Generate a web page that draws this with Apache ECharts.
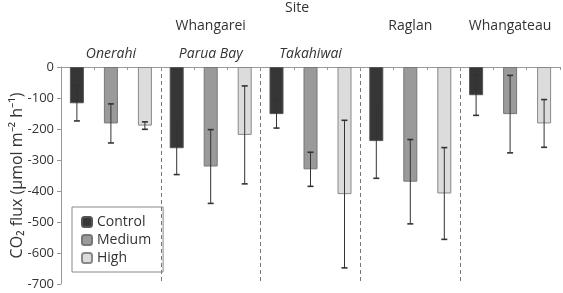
<!DOCTYPE html>
<html>
<head>
<meta charset="utf-8">
<script src="https://cdn.jsdelivr.net/npm/echarts@6/dist/echarts.min.js"></script>
<style>
  html, body { margin: 0; padding: 0; background: #fff; }
  #fluxChart { width: 563px; height: 293px; }
</style>
</head>
<body>
<div id="fluxChart"></div>
<script>
// one category per site; the italic row only names the Whangarei sub-sites
const sites = ["Onerahi", "Parua Bay", "Takahiwai", "Raglan", "Whangateau"];
const subSites = ["Onerahi", "Parua Bay", "Takahiwai", "", ""];
const regions = ["", "Whangarei", "", "Raglan", "Whangateau"];
const treatments = ["Control", "Medium", "High"];

// mean CO2 flux and error (umol m-2 h-1)
const controlFlux = [-117, -262, -152, -239, -91];
const controlErr = [57, 85, 45, 120, 65];
const mediumFlux = [-182, -321, -330, -370, -152];
const mediumErr = [63, 119, 55, 136, 125];
const highFlux = [-189, -219, -410, -408, -182];
const highErr = [12, 158, 238, 148, 77];

const yTicks = [0, -100, -200, -300, -400, -500, -600, -700];

const fontName = "Open Sans";
const barW = 14;
const barSpace = 20;

const chart = echarts.init(document.getElementById("fluxChart"));

function errorSeries(values, errs, idx) {
  return {
    type: "custom",
    xAxisIndex: 0,
    z: 5,
    silent: true,
    encode: { x: 0, y: 1 },
    data: values.map((v, i) => [i, v, errs[i]]),
    renderItem: function(params, api) {
      const offset = (idx - 1) * (barW + barSpace);
      const x = api.coord([api.value(0), 0])[0] + offset;
      const yTop = api.coord([api.value(0), api.value(1) + api.value(2)])[1];
      const yBot = api.coord([api.value(0), api.value(1) - api.value(2)])[1];
      const st = { stroke: "#333", lineWidth: 1 };
      const cap = { stroke: "#333", lineWidth: 1.6 };
      return {
        type: "group",
        children: [
          { type: "line", shape: { x1: x, y1: yTop, x2: x, y2: yBot }, style: st },
          { type: "line", shape: { x1: x - 3, y1: yTop, x2: x + 3, y2: yTop }, style: cap },
          { type: "line", shape: { x1: x - 3, y1: yBot, x2: x + 3, y2: yBot }, style: cap }
        ]
      };
    }
  };
}

function barSeries(name, values, color, border) {
  return {
    name: name,
    type: "bar",
    xAxisIndex: 0,
    barWidth: barW,
    barGap: (barSpace / barW * 100) + "%",
    itemStyle: { color: color, borderColor: border, borderWidth: 1 },
    data: values
  };
}

let option = {
  animation: false,
  textStyle: { fontFamily: fontName },
  title: {
    text: "Site",
    left: 285,
    top: 1,
    padding: 0,
    textStyle: { fontFamily: fontName, fontSize: 14, fontWeight: "normal", color: "#333" }
  },
  legend: {
    orient: "vertical",
    left: 72,
    top: 207,
    padding: [8, 12, 7, 9],
    itemGap: 4,
    itemWidth: 10,
    itemHeight: 10,
    borderColor: "#888",
    borderWidth: 1,
    data: treatments,
    textStyle: { fontFamily: fontName, fontSize: 14, color: "#333" }
  },
  grid: { left: 61, right: 3, top: 67, bottom: 9, outerBoundsMode: "none", containLabel: false },
  xAxis: [
    {
      // sites, with dashed dividers between them
      type: "category",
      position: "top",
      data: sites,
      axisLine: { lineStyle: { color: "#999" } },
      axisTick: { show: false, interval: 0 },
      axisLabel: {
        margin: 6,
        interval: 0,
        formatter: (v, i) => subSites[i],
        fontStyle: "italic",
        fontSize: 14,
        color: "#333",
        fontFamily: fontName
      },
      splitLine: {
        show: true,
        interval: 0,
        showMinLine: false,
        showMaxLine: false,
        lineStyle: { color: "#777", type: [4, 3], width: 1 }
      }
    },
    {
      // region row
      type: "category",
      position: "top",
      offset: 28,
      data: regions,
      axisLine: { show: false },
      axisTick: { show: false },
      axisLabel: { margin: 6, fontSize: 14, color: "#333", fontFamily: fontName, interval: 0 }
    },
    {
      // one tick per bar slot along the top
      type: "category",
      position: "top",
      data: sites.flatMap(s => treatments.map(t => s + " " + t)),
      axisLine: { show: false },
      axisTick: { show: true, inside: true, length: 3, interval: 0, lineStyle: { color: "#999" } },
      axisLabel: { show: false }
    }
  ],
  yAxis: {
    type: "value",
    min: yTicks[yTicks.length - 1],
    max: yTicks[0],
    interval: 100,
    name: "CO\u2082 flux (\u00b5mol m\u207b\u00b2 h\u207b\u00b9)",
    nameLocation: "middle",
    nameGap: 36,
    nameMoveOverlap: false,
    nameTextStyle: { fontFamily: fontName, fontSize: 16, color: "#333" },
    axisLine: { show: true, lineStyle: { color: "#999" } },
    axisTick: { show: true, length: 4, lineStyle: { color: "#999" } },
    axisLabel: { margin: 7, fontSize: 13, color: "#333", fontFamily: fontName },
    splitLine: { show: false }
  },
  series: [
    barSeries("Control", controlFlux, "#363636", "#555"),
    barSeries("Medium", mediumFlux, "#9a9a9a", "#777"),
    barSeries("High", highFlux, "#dcdcdc", "#888"),
    errorSeries(controlFlux, controlErr, 0),
    errorSeries(mediumFlux, mediumErr, 1),
    errorSeries(highFlux, highErr, 2)
  ]
};

chart.setOption(option);
</script>
</body>
</html>
